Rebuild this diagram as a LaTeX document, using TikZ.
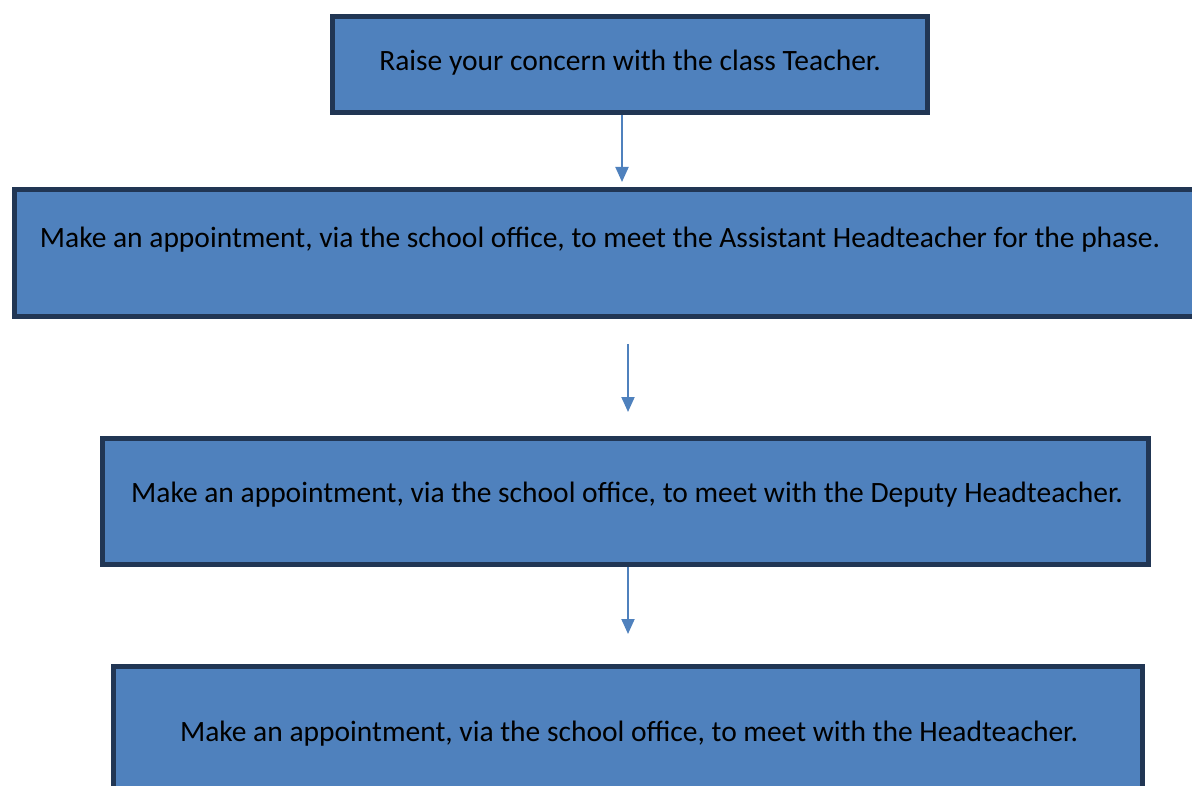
\documentclass[tikz,border=0pt]{standalone}
\usepackage{fontspec}
\setmainfont{Carlito}
\definecolor{boxblue}{RGB}{79,129,189}
\definecolor{boxline}{RGB}{33,54,84}
\usetikzlibrary{arrows.meta,positioning}

\begin{document}
\begin{tikzpicture}[x=1pt,y=-1pt,
  every node/.style={inner sep=0pt},
  stepbox/.style={draw=boxline,fill=boxblue,line width=5pt,rectangle},
  steptext/.style={font=\fontsize{29.5}{34}\selectfont,text=black},
  steparrow/.style={draw=boxblue,line width=2pt,-{Triangle[width=13pt,length=15pt]}}
  ]
  \useasboundingbox (0,0) rectangle (1192,786);
  \clip (0,0) rectangle (1192,786);

  % the boxes
  \node[stepbox,minimum width=595pt,minimum height=96pt] (b1) at (630,64.5) {};
  \node[stepbox,minimum width=1181pt,minimum height=127pt] (b2) at (605,253) {};
  \node[stepbox,minimum width=1046pt,minimum height=126pt] (b3) at (625.5,501.5) {};
  \node[stepbox,minimum width=1029pt,minimum height=126pt] (b4) at (628,729.5) {};

  % the texts
  \node[steptext] (t1) at (630,63) {Raise your concern with the class Teacher.};
  \node[steptext] (t2) at (600,240) {Make an appointment, via the school office, to meet the Assistant Headteacher for the phase.};
  \node[steptext] (t3) at (627,495) {Make an appointment, via the school office, to meet with the Deputy Headteacher.};
  \node[steptext] (t4) at (629,734) {Make an appointment, via the school office, to meet with the Headteacher.};

  % the arrows
  \coordinate (a1) at (622,182);
  \coordinate (a2s) at (628,344);
  \coordinate (a2) at (628,412);
  \coordinate (a3) at (628,634);
  \draw[steparrow] (b1.south -| a1) -- (a1);
  \draw[steparrow] (a2s) -- (a2);
  \draw[steparrow] (b3.south -| a3) -- (a3);
\end{tikzpicture}
\end{document}
